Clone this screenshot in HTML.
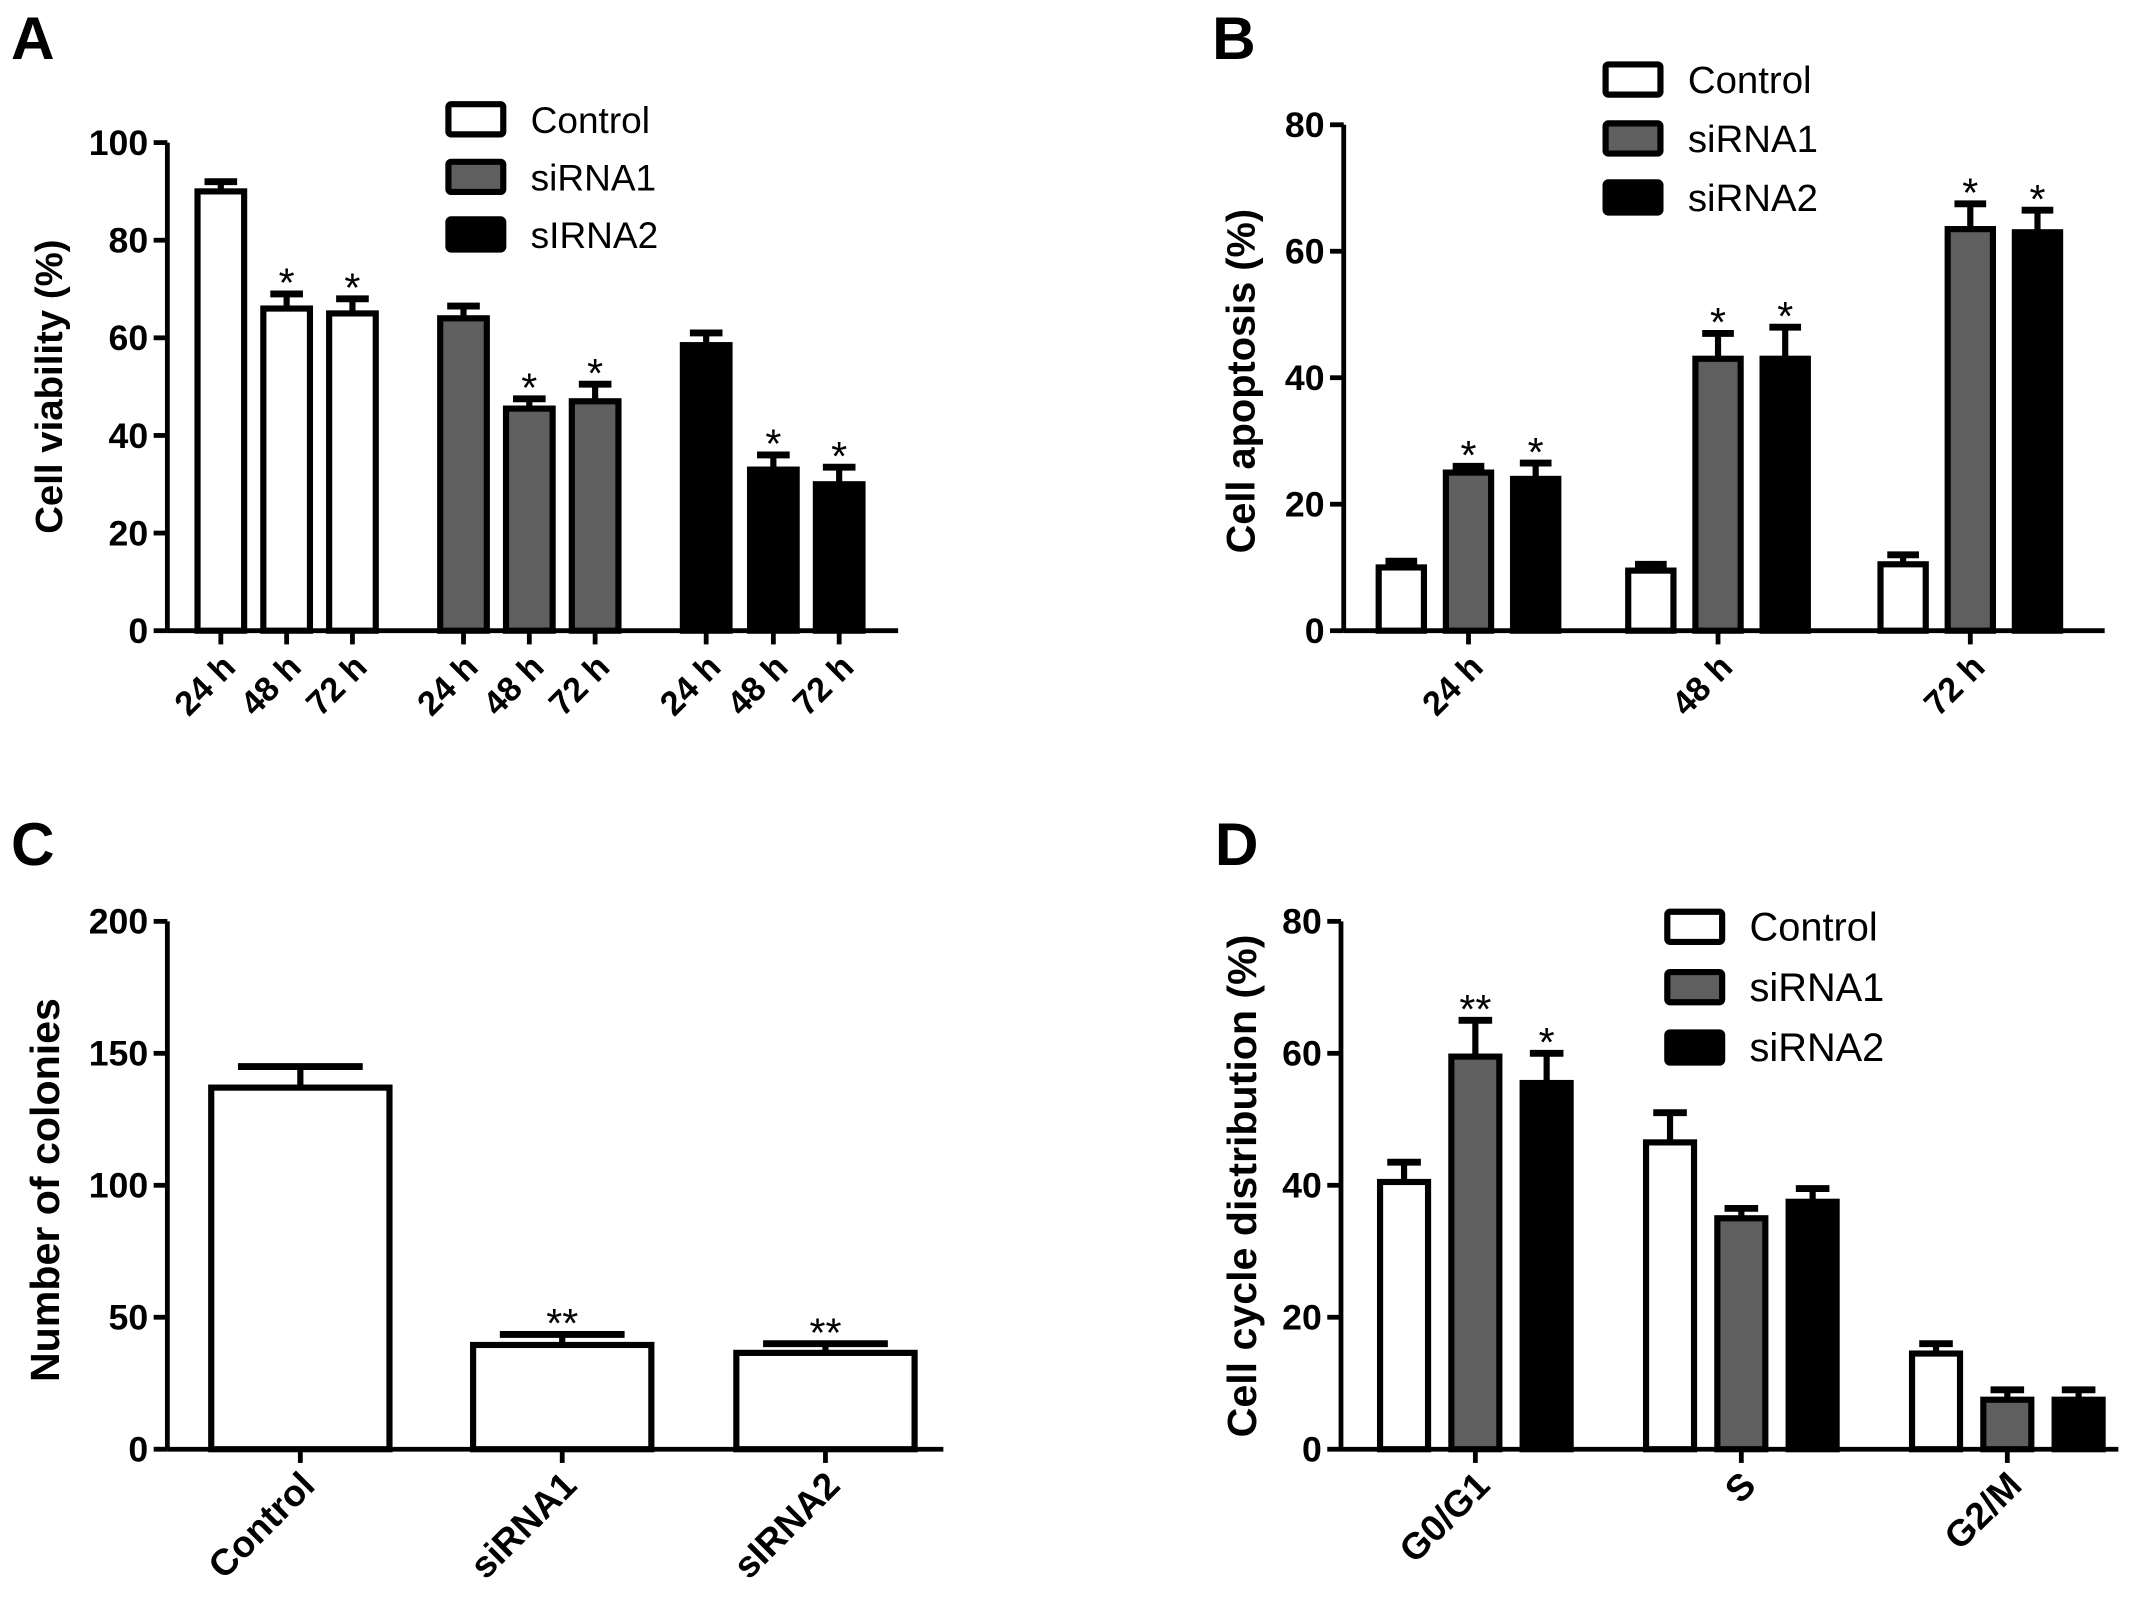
<!DOCTYPE html>
<html><head><meta charset="utf-8"><style>
html,body{margin:0;padding:0;background:#fff}
svg{display:block}
text{font-family:"Liberation Sans",Arial,sans-serif}
</style></head><body>
<svg id="fig" width="2150" height="1611" viewBox="0 0 1568 1175" xmlns="http://www.w3.org/2000/svg"></svg>
<script>
// Panel A data
const aCategories=["24 h","48 h","72 h","24 h","48 h","72 h","24 h","48 h","72 h"];
const aValues=[90,66,65,64,45.5,47,58.5,33,30];
const aErrors=[2,3,3,2.5,2,3.5,2.5,3,3.5];
const aStars=["","*","*","","*","*","","*","*"];
const aColors=["c","c","c","s1","s1","s1","s2","s2","s2"];
const aTicks=[0,20,40,60,80,100];
// Panel B data
const bCategories=["24 h","48 h","72 h"];
const bControl=[10,9.5,10.5];
const bControlErr=[1,1,1.5];
const bSi1=[25,43,63.5];
const bSi1Err=[1,4,4];
const bSi2=[24,43,63];
const bSi2Err=[2.5,5,3.5];
const bStars1=["*","*","*"];
const bStars2=["*","*","*"];
const bTicks=[0,20,40,60,80];
// Panel C data
const cCategories=["Control","siRNA1","sIRNA2"];
const cValues=[137,39.5,36.5];
const cErrors=[8,4,3.5];
const cStars=["","**","**"];
const cTicks=[0,50,100,150,200];
// Panel D data
const dCategories=["G0/G1","S","G2/M"];
const dControl=[40.5,46.5,14.5];
const dControlErr=[3,4.5,1.5];
const dSi1=[59.5,35,7.5];
const dSi1Err=[5.5,1.5,1.5];
const dSi2=[55.5,37.5,7.5];
const dSi2Err=[4.5,2,1.5];
const dStars1=["**","",""];
const dStars2=["*","",""];
const dTicks=[0,20,40,60,80];

const NS="http://www.w3.org/2000/svg";
const svg=document.getElementById('fig');
const fills={c:"#ffffff",s1:"#5f5f5f",s2:"#000000"};
function el(tag,attrs,parent,txt){const e=document.createElementNS(NS,tag);for(const k in attrs)e.setAttribute(k,attrs[k]);if(txt!==undefined)e.textContent=txt;(parent||svg).appendChild(e);return e;}

function panel(o){
  const g=el('g',{});
  
  
  const yS=v=>o.y0-(v-0)/(o.ymax)*(o.y0-o.ytop);
  const L=el('text',{x:o.lx,y:o.ly,'font-size':44,'font-weight':'bold'},g,o.letter);
  
  
  const ya=el('line',{x1:o.ax,y1:o.ytop,x2:o.ax,y2:o.y0,stroke:'#000','stroke-width':3.5},g);
  
  
  o.ticks.forEach(t=>{
    const y=yS(t);
    el('line',{x1:o.ax-10,y1:y,x2:o.ax,y2:y,stroke:'#000','stroke-width':3.5},g);
    const tl=el('text',{x:o.ax-14,y:y+9,'font-size':26,'font-weight':'bold','text-anchor':'end'},g,String(t));
    
    
  });
  const xa=el('line',{x1:o.ax,y1:o.y0,x2:o.axEnd,y2:o.y0,stroke:'#000','stroke-width':3.5},g);
  
  
  const yt=el('text',{x:0,y:0,'font-size':o.ytSize,'font-weight':'bold','text-anchor':'middle',transform:`translate(${o.ytx},${o.yty}) rotate(-90)`},g,o.ytitle);
  
  
  o.bars.forEach(b=>{
    const top=yS(b.v);
    const et=yS(b.v+b.e);
    el('line',{x1:b.x,y1:top,x2:b.x,y2:et,stroke:'#000','stroke-width':4.5},g);
    el('line',{x1:b.x-b.w*0.35,y1:et,x2:b.x+b.w*0.35,y2:et,stroke:'#000','stroke-width':5},g);
    const r=el('rect',{x:b.x-b.w/2,y:top,width:b.w,height:o.y0-top,fill:fills[b.c],stroke:'#000','stroke-width':4.5},g);
    
    
    if(b.s){const st=el('text',{x:b.x,y:et+2,'font-size':30,'text-anchor':'middle'},g,b.s);
      
      }
  });
  o.xt.forEach(t=>{
    el('line',{x1:t.x,y1:o.y0,x2:t.x,y2:o.y0+10,stroke:'#000','stroke-width':3.5},g);
    const xl=el('text',{x:0,y:0,'font-size':o.xlSize,'font-weight':'bold','text-anchor':'end',transform:`translate(${t.x+12},${o.y0+28}) rotate(-45)`},g,t.l);
    
    
  });
  if(o.leg){
    o.leg.items.forEach((it,i)=>{
      const y=o.leg.y+i*o.leg.dy;
      const lr=el('rect',{x:o.leg.x,y:y,width:40,height:22,fill:fills[it.c],stroke:'#000','stroke-width':4.5,rx:2},g);
      
      
      const lt=el('text',{x:o.leg.x+60,y:y+21,'font-size':o.leg.fs},g,it.l);
      
      
    });
  }
}

(function(){
  const centers=[161,209,257,338,386,434,515,564,612];
  const bars=aValues.map((v,i)=>({x:centers[i],w:34,v:v,e:aErrors[i],c:aColors[i],s:aStars[i]}));
  panel({name:'panel-a',letter:'A',lx:8,ly:43,ax:122,axEnd:655,ytop:104,y0:460,ymax:100,ticks:aTicks,
    ytitle:'Cell viability (%)',ytx:45,yty:282,ytSize:28,bars:bars,xlSize:25,
    xt:aCategories.map((l,i)=>({x:centers[i],l:l})),
    leg:{x:327,y:76,dy:42,fs:27,items:[{c:'c',l:'Control'},{c:'s1',l:'siRNA1'},{c:'s2',l:'sIRNA2'}]}});
})();
(function(){
  const gc=[1071,1253,1437], off=49;
  const bars=[];
  bCategories.forEach((c,i)=>{
    bars.push({x:gc[i]-off,w:33,v:bControl[i],e:bControlErr[i],c:'c',s:''});
    bars.push({x:gc[i],w:33,v:bSi1[i],e:bSi1Err[i],c:'s1',s:bStars1[i]});
    bars.push({x:gc[i]+off,w:33,v:bSi2[i],e:bSi2Err[i],c:'s2',s:bStars2[i]});
  });
  panel({name:'panel-b',letter:'B',lx:884,ly:43,ax:980,axEnd:1535,ytop:91,y0:460,ymax:80,ticks:bTicks,
    ytitle:'Cell apoptosis (%)',ytx:915,yty:278,ytSize:29,bars:bars,xlSize:25,
    xt:bCategories.map((l,i)=>({x:gc[i],l:l})),
    leg:{x:1171,y:47,dy:43,fs:28,items:[{c:'c',l:'Control'},{c:'s1',l:'siRNA1'},{c:'s2',l:'siRNA2'}]}});
})();
(function(){
  const centers=[219,410,602];
  const bars=cValues.map((v,i)=>({x:centers[i],w:130,v:v,e:cErrors[i],c:'c',s:cStars[i]}));
  panel({name:'panel-c',letter:'C',lx:8,ly:631,ax:122,axEnd:688,ytop:672,y0:1057,ymax:200,ticks:cTicks,
    ytitle:'Number of colonies',ytx:43,yty:868,ytSize:30,bars:bars,xlSize:27,
    xt:cCategories.map((l,i)=>({x:centers[i],l:l}))});
})();
(function(){
  const gc=[1076,1270,1464], off=52;
  const bars=[];
  dCategories.forEach((c,i)=>{
    bars.push({x:gc[i]-off,w:35,v:dControl[i],e:dControlErr[i],c:'c',s:''});
    bars.push({x:gc[i],w:35,v:dSi1[i],e:dSi1Err[i],c:'s1',s:dStars1[i]});
    bars.push({x:gc[i]+off,w:35,v:dSi2[i],e:dSi2Err[i],c:'s2',s:dStars2[i]});
  });
  panel({name:'panel-d',letter:'D',lx:886,ly:631,ax:978,axEnd:1545,ytop:672,y0:1057,ymax:80,ticks:dTicks,
    ytitle:'Cell cycle distribution (%)',ytx:916,yty:865,ytSize:30,bars:bars,xlSize:27,
    xt:dCategories.map((l,i)=>({x:gc[i],l:l})),
    leg:{x:1216,y:665,dy:44,fs:29,items:[{c:'c',l:'Control'},{c:'s1',l:'siRNA1'},{c:'s2',l:'siRNA2'}]}});
})();
</script>
</body></html>
